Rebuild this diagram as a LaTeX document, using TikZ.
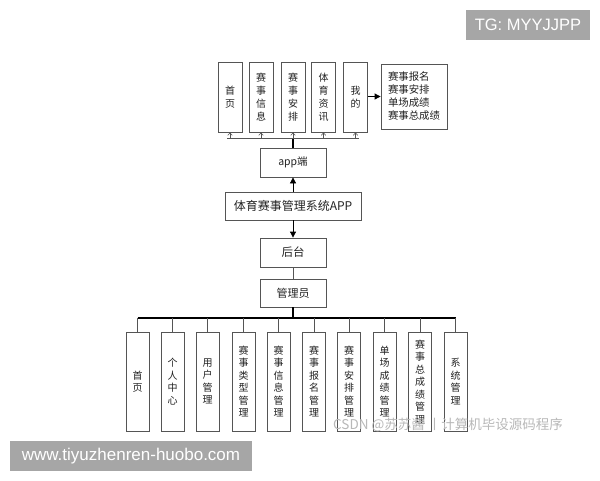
\documentclass[tikz,border=0pt]{standalone}
\usepackage{fontspec}
\setmainfont{Noto Sans CJK SC}
\newfontfamily\wmfont{Liberation Sans}
\usetikzlibrary{arrows.meta}
\definecolor{boxgray}{HTML}{555555}
\definecolor{txt}{HTML}{222222}
\definecolor{wm}{HTML}{A6A6A6}
\definecolor{csdn}{HTML}{B8B8B8}
\begin{document}
\begin{tikzpicture}[x=1pt,y=-1pt,
  box/.style={draw=boxgray, line width=0.8pt, fill=white, inner sep=0pt, text=txt, align=center},
  topbox/.style={box, minimum width=24pt, minimum height=70pt, font=\fontsize{10}{13}\selectfont},
  botbox/.style={box, minimum width=23pt, minimum height=99pt, font=\fontsize{10}{12.5}\selectfont},
  midbox/.style={box, minimum width=66pt, minimum height=29pt},
  bus/.style={draw=black, line width=1.2pt},
  thinbus/.style={draw=boxgray, line width=0.8pt},
  thinln/.style={draw=boxgray, line width=0.6pt},
  bigarr/.style={draw=black, line width=0.8pt, -{Triangle[length=6pt,width=6pt]}},
  smallarr/.style={thinln, -{Straight Barb[length=2.5pt,width=4.5pt]}},
  wmbox/.style={fill=wm, text=white, inner sep=0pt, font=\wmfont\fontsize{16.5}{16.5}\selectfont}
]
\useasboundingbox (0,0) rectangle (600,480);
% top row
\node[topbox] (t1) at (230,97) {首\\页};
\node[topbox] (t2) at (261,97) {赛\\事\\信\\息};
\node[topbox] (t3) at (293,97) {赛\\事\\安\\排};
\node[topbox] (t4) at (323.5,97) {体\\育\\资\\讯};
\node[topbox] (t5) at (355.5,97) {我\\的};
\node[box, minimum width=66pt, minimum height=65pt, align=left, font=\fontsize{10.4}{13}\selectfont] (rt) at (414,96.5) {赛事报名\\赛事安排\\单场成绩\\赛事总成绩};
\draw[bigarr] (t5.east |- rt.west) -- (rt.west);
% middle column
\node[midbox, font=\fontsize{10.5}{12}\selectfont] (app) at (293,162.5) {app端};
\node[box, minimum width=136pt, minimum height=28pt, font=\fontsize{12}{14}\selectfont] (sys) at (293,206) {体育赛事管理系统APP};
\node[midbox, font=\fontsize{11.5}{13}\selectfont] (ht) at (293,252.5) {后台};
\node[midbox, minimum height=28pt, font=\fontsize{11}{13}\selectfont] (adm) at (293,293) {管理员};
\draw[bigarr] (sys.north) -- (app.south);
\draw[bigarr] (sys.south) -- (ht.north);
\draw[thinln] (ht.south) -- (adm.north);
% top bus
\coordinate (busT) at (293,138);
\coordinate (busTl) at (227,138);
\coordinate (busTr) at (359,138);
\draw[bus] (app.north) -- (busT);
\draw[thinbus] (busTl) -- (busTr);
\foreach \n in {t1,t2,t3,t4,t5}{
  \draw[smallarr] (\n.south |- busT) -- (\n.south);
}
% bottom row
\node[botbox] (b1) at (137.5,381.5) {首\\页};
\node[botbox] (b2) at (172.5,381.5) {个\\人\\中\\心};
\node[botbox] (b3) at (207.5,381.5) {用\\户\\管\\理};
\node[botbox] (b4) at (243.5,381.5) {赛\\事\\类\\型\\管\\理};
\node[botbox] (b5) at (278.5,381.5) {赛\\事\\信\\息\\管\\理};
\node[botbox] (b6) at (314,381.5) {赛\\事\\报\\名\\管\\理};
\node[botbox] (b7) at (349,381.5) {赛\\事\\安\\排\\管\\理};
\node[botbox] (b8) at (384.5,381.5) {单\\场\\成\\绩\\管\\理};
\node[botbox] (b9) at (420,381.5) {赛\\事\\总\\成\\绩\\管\\理};
\node[botbox] (b10) at (455.5,381.5) {系\\统\\管\\理};
\coordinate (busB) at (293,318);
\draw[bus] (adm.south) -- (busB);
\draw[bus] (b1.north |- busB) -- (b10.north |- busB);
\foreach \n in {b1,b2,b3,b4,b5,b6,b7,b8,b9,b10}{
  \draw[thinln] (\n.north |- busB) -- (\n.north);
}
% watermarks
\node[text=csdn, font=\fontsize{13.5}{13.5}\selectfont, anchor=west, inner sep=0pt] (csdn) at (333,425) {CSDN @苏苏酱 丨计算机毕设源码程序};
\node[wmbox, minimum width=124pt, minimum height=30pt] (tg) at (528,25) {TG: MYYJJPP};
\node[wmbox, minimum width=242pt, minimum height=30pt, font=\wmfont\fontsize{17}{17}\selectfont] (url) at (131,456) {www.tiyuzhenren-huobo.com};
\end{tikzpicture}
\end{document}
